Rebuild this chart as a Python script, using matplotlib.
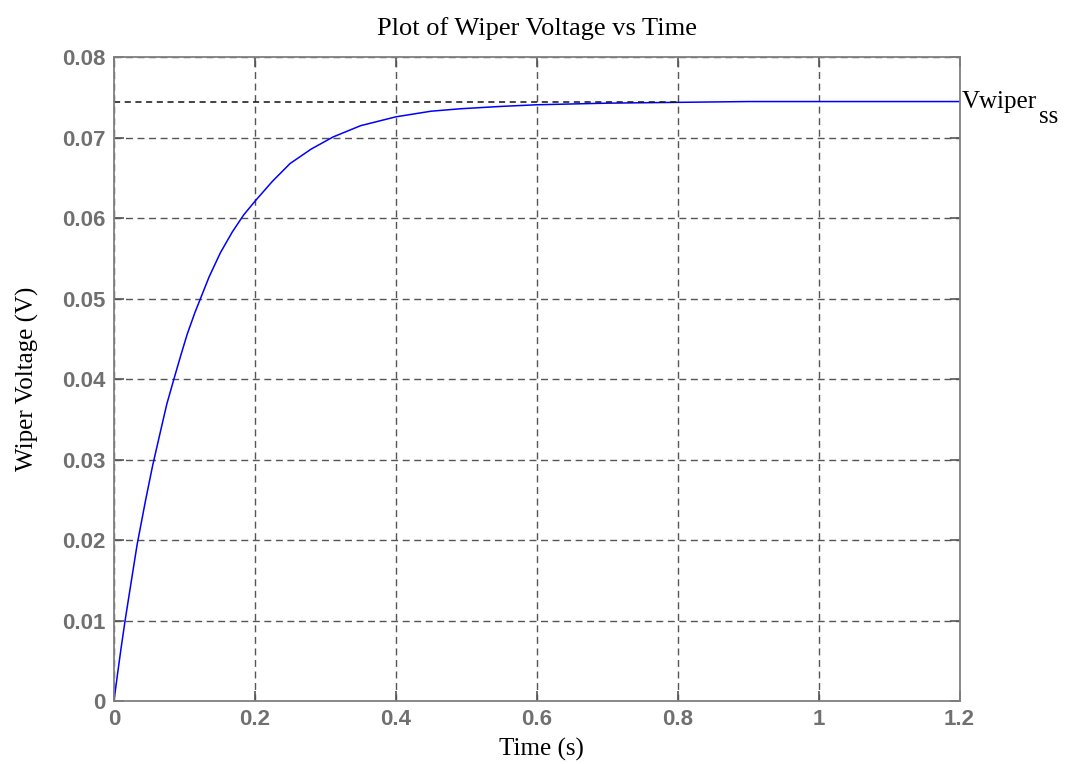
import matplotlib.pyplot as plt

# values
t = [0, 0.005, 0.01, 0.016, 0.025, 0.033, 0.045, 0.055, 0.066, 0.075, 0.0857, 0.095, 0.104, 0.115, 0.125,
     0.135, 0.151, 0.168, 0.184, 0.2, 0.225, 0.25, 0.28, 0.311, 0.35, 0.4, 0.45, 0.491, 0.55, 0.6, 0.7,
     0.8, 0.9, 1.0, 1.2]
v = [0, 0.0033, 0.0065, 0.0101, 0.0151, 0.0195, 0.0250, 0.0293, 0.0335, 0.0369, 0.0402, 0.0430, 0.0456,
     0.0483, 0.0505, 0.0527, 0.0557, 0.0583, 0.0604, 0.0621, 0.0646, 0.0668, 0.0686, 0.0701, 0.0715,
     0.0726, 0.0733, 0.0736, 0.0739, 0.0741, 0.0743, 0.0744, 0.0745, 0.0745, 0.0745]
v_ss = 0.0745
ss_end = 0.8

fig = plt.figure(figsize=(10.65, 7.64), dpi=100)
ax = fig.add_axes([0.107, 0.0825, 0.794, 0.8425])

ax.plot(t, v, color='blue', lw=1.1)
ax.plot([0, ss_end], [v_ss, v_ss], color='#111111', ls=(0, (4, 3)), lw=1.1)

ax.set_xlim(0, 1.2)
ax.set_ylim(0, 0.08)
ax.set_xticks([0, 0.2, 0.4, 0.6, 0.8, 1, 1.2])
ax.set_xticklabels(['0', '0.2', '0.4', '0.6', '0.8', '1', '1.2'])
ax.set_yticks([0, 0.01, 0.02, 0.03, 0.04, 0.05, 0.06, 0.07, 0.08])
ax.set_yticklabels(['0', '0.01', '0.02', '0.03', '0.04', '0.05', '0.06', '0.07', '0.08'])
ax.grid(True, color='#555555', ls=(0, (5, 3.3)), lw=1)
for s in ax.spines.values():
    s.set_color('#808080')
    s.set_linewidth(1.3)
ax.tick_params(direction='in', length=7, width=1.2, color='#555555', labelcolor='#707070',
               labelsize=16, pad=6, top=True, right=True)
for lab in ax.get_xticklabels() + ax.get_yticklabels():
    lab.set_fontfamily('Liberation Sans')
    lab.set_fontweight('bold')

serif = 'Liberation Serif'
ax.set_title('Plot of Wiper Voltage vs Time', fontfamily=serif, fontsize=19, pad=16)
ax.set_xlabel('Time (s)', fontfamily=serif, fontsize=18)
ax.set_ylabel('Wiper Voltage (V)', fontfamily=serif, fontsize=18, labelpad=17)
ax.xaxis.set_label_coords(0.505, -0.058)

ax.text(1.203, v_ss, 'Vwiper', fontfamily=serif, fontsize=18, va='center', ha='left', clip_on=False)
ax.text(1.313, v_ss - 0.0019, 'ss', fontfamily=serif, fontsize=18, va='center', ha='left', clip_on=False)

fig.savefig('out.png', dpi=100)
